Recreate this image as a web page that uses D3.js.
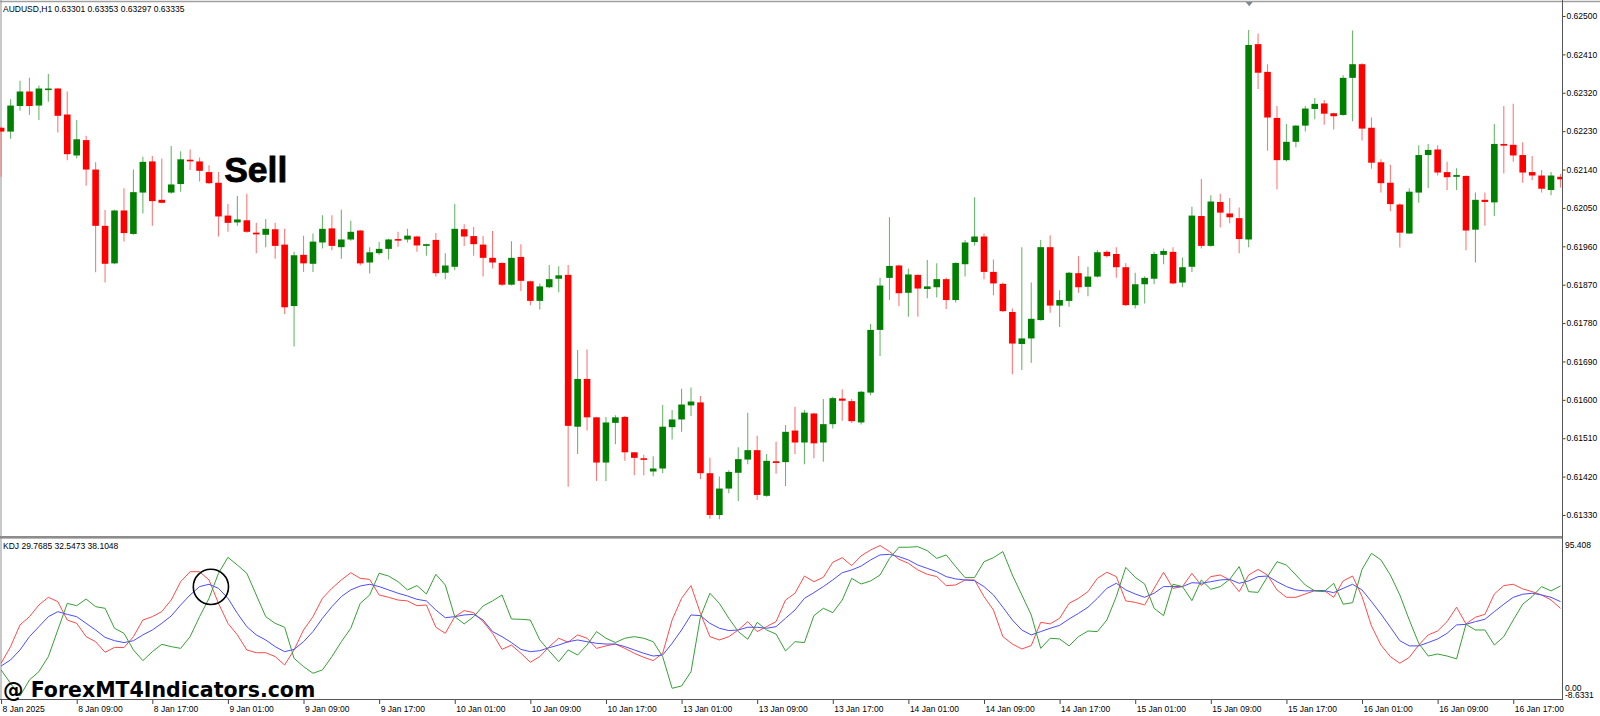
<!DOCTYPE html>
<html><head><meta charset="utf-8">
<script src="https://cdn.jsdelivr.net/npm/d3@7"></script>
<style>html,body{margin:0;padding:0;background:#fff;overflow:hidden}</style>
</head><body>
<svg id="c" width="1600" height="716"></svg>
<script>
// ---------------- DATA ----------------
const symbolTitle = "AUDUSD,H1  0.63301 0.63353 0.63297 0.63335";
const kdjTitle = "KDJ 29.7685 32.5473 38.1048";
const watermark = "@ ForexMT4Indicators.com";
const signalText = "Sell";

const open = [0.62238,0.62229,0.62289,0.62323,0.62290,0.62328,0.62330,0.62269,0.62173,0.62209,
0.62140,0.62008,0.61920,0.62044,0.61989,0.62086,0.62159,0.62069,0.62086,0.62106,
0.62163,0.62159,0.62134,0.62109,0.62032,0.62016,0.62021,0.61992,0.61987,0.62000,
0.61964,0.61820,0.61940,0.61919,0.61969,0.62002,0.61958,0.61976,0.61997,0.61922,
0.61944,0.61954,0.61977,0.61976,0.61983,0.61961,0.61975,0.61898,0.61912,0.62000,
0.61984,0.61964,0.61933,0.61921,0.61870,0.61935,0.61878,0.61832,0.61864,0.61884,
0.61893,0.61537,0.61649,0.61559,0.61453,0.61546,0.61560,0.61477,0.61463,0.61432,
0.61439,0.61536,0.61554,0.61587,0.61594,0.61428,0.61330,0.61392,0.61429,0.61460,
0.61482,0.61375,0.61456,0.61454,0.61528,0.61500,0.61568,0.61500,0.61543,0.61603,
0.61597,0.61547,0.61617,0.61764,0.61886,0.61915,0.61851,0.61893,0.61860,0.61864,
0.61883,0.61834,0.61918,0.61970,0.61983,0.61900,0.61872,0.61806,0.61731,0.61744,
0.61787,0.61958,0.61821,0.61832,0.61897,0.61865,0.61889,0.61947,0.61942,0.61911,
0.61822,0.61871,0.61884,0.61940,0.61947,0.61875,0.61912,0.62031,0.61961,0.62064,
0.62037,0.62026,0.61976,0.62434,0.62369,0.62261,0.62162,0.62205,0.62243,0.62282,
0.62295,0.62272,0.62268,0.62355,0.62387,0.62238,0.62157,0.62109,0.62058,0.61990,
0.62086,0.62174,0.62187,0.62134,0.62123,0.62125,0.61999,0.62069,0.62063,0.62200,
0.62198,0.62174,0.62134,0.62126,0.62092,0.62123];

const high = [0.62241,0.62305,0.62348,0.62355,0.62337,0.62364,0.62331,0.62323,0.62256,0.62219,
0.62157,0.62045,0.62046,0.62096,0.62140,0.62170,0.62172,0.62166,0.62195,0.62183,
0.62187,0.62168,0.62150,0.62134,0.62059,0.62078,0.62083,0.62015,0.62024,0.62015,
0.62001,0.61947,0.61985,0.61990,0.62033,0.62033,0.62046,0.62020,0.61998,0.61958,
0.61970,0.61978,0.61994,0.62001,0.61985,0.61966,0.61991,0.61944,0.62059,0.62012,
0.62005,0.61984,0.61996,0.61922,0.61972,0.61965,0.61879,0.61873,0.61916,0.61913,
0.61916,0.61717,0.61718,0.61560,0.61560,0.61564,0.61562,0.61478,0.61471,0.61468,
0.61588,0.61576,0.61626,0.61629,0.61609,0.61464,0.61420,0.61435,0.61489,0.61570,
0.61516,0.61473,0.61502,0.61541,0.61584,0.61576,0.61570,0.61602,0.61607,0.61625,
0.61602,0.61621,0.61778,0.61886,0.62028,0.61917,0.61908,0.61894,0.61928,0.61920,
0.61887,0.61922,0.61975,0.62075,0.61990,0.61929,0.61875,0.61814,0.61958,0.61875,
0.61975,0.61986,0.61857,0.61900,0.61937,0.61912,0.61951,0.61950,0.61958,0.61920,
0.61898,0.61890,0.61947,0.61955,0.61958,0.61934,0.62053,0.62118,0.62080,0.62083,
0.62073,0.62051,0.62467,0.62459,0.62387,0.62289,0.62247,0.62244,0.62289,0.62308,
0.62303,0.62273,0.62361,0.62466,0.62389,0.62262,0.62164,0.62151,0.62061,0.62096,
0.62197,0.62200,0.62197,0.62158,0.62143,0.62126,0.62086,0.62086,0.62247,0.62289,
0.62294,0.62204,0.62172,0.62139,0.62134,0.62130];

const low = [0.62123,0.62212,0.62278,0.62268,0.62256,0.62299,0.62227,0.62162,0.62166,0.62102,
0.61899,0.61875,0.61918,0.61971,0.61987,0.62037,0.62008,0.62061,0.62083,0.62088,
0.62139,0.62112,0.62106,0.61983,0.61994,0.62008,0.61992,0.61944,0.61958,0.61931,
0.61801,0.61725,0.61900,0.61900,0.61955,0.61951,0.61931,0.61973,0.61915,0.61896,
0.61940,0.61929,0.61959,0.61969,0.61947,0.61938,0.61889,0.61883,0.61904,0.61961,
0.61938,0.61889,0.61908,0.61867,0.61868,0.61855,0.61822,0.61812,0.61862,0.61852,
0.61396,0.61473,0.61528,0.61410,0.61410,0.61496,0.61457,0.61423,0.61423,0.61421,
0.61428,0.61507,0.61525,0.61562,0.61414,0.61321,0.61320,0.61381,0.61363,0.61449,
0.61365,0.61373,0.61427,0.61398,0.61473,0.61449,0.61463,0.61455,0.61533,0.61551,
0.61546,0.61542,0.61611,0.61703,0.61834,0.61820,0.61795,0.61795,0.61838,0.61840,
0.61813,0.61828,0.61889,0.61962,0.61883,0.61845,0.61806,0.61660,0.61670,0.61687,
0.61786,0.61804,0.61771,0.61818,0.61851,0.61843,0.61887,0.61934,0.61886,0.61820,
0.61814,0.61826,0.61871,0.61918,0.61871,0.61864,0.61900,0.61955,0.61959,0.62004,
0.62014,0.61944,0.61958,0.62329,0.62184,0.62094,0.62159,0.62192,0.62229,0.62258,
0.62245,0.62234,0.62266,0.62253,0.62208,0.62142,0.62086,0.62042,0.61957,0.61989,
0.62062,0.62097,0.62126,0.62092,0.62092,0.61951,0.61922,0.62008,0.62031,0.62131,
0.62158,0.62109,0.62115,0.62086,0.62080,0.62098];

const close = [0.62229,0.62290,0.62323,0.62289,0.62330,0.62330,0.62266,0.62176,0.62211,0.62140,
0.62008,0.61919,0.62044,0.61991,0.62087,0.62158,0.62066,0.62062,0.62105,0.62164,
0.62161,0.62137,0.62108,0.62030,0.62015,0.62023,0.61994,0.61988,0.62001,0.61961,
0.61817,0.61939,0.61920,0.61971,0.62001,0.61961,0.61976,0.61994,0.61920,0.61946,
0.61954,0.61976,0.61975,0.61985,0.61962,0.61965,0.61897,0.61915,0.62001,0.61983,
0.61965,0.61933,0.61922,0.61870,0.61933,0.61879,0.61832,0.61866,0.61883,0.61892,
0.61539,0.61649,0.61559,0.61453,0.61547,0.61559,0.61477,0.61464,0.61460,0.61439,
0.61537,0.61554,0.61589,0.61596,0.61428,0.61330,0.61392,0.61431,0.61461,0.61482,
0.61377,0.61457,0.61452,0.61525,0.61500,0.61570,0.61498,0.61543,0.61604,0.61598,
0.61550,0.61619,0.61764,0.61868,0.61914,0.61850,0.61894,0.61861,0.61866,0.61883,
0.61834,0.61921,0.61969,0.61983,0.61900,0.61873,0.61808,0.61732,0.61744,0.61790,
0.61958,0.61821,0.61834,0.61898,0.61864,0.61889,0.61946,0.61937,0.61911,0.61822,
0.61871,0.61886,0.61942,0.61949,0.61873,0.61911,0.62032,0.61961,0.62065,0.62039,
0.62028,0.61977,0.62432,0.62367,0.62262,0.62162,0.62205,0.62243,0.62283,0.62294,
0.62271,0.62265,0.62355,0.62387,0.62236,0.62156,0.62108,0.62059,0.61992,0.62088,
0.62174,0.62186,0.62133,0.62122,0.62127,0.61997,0.62069,0.62064,0.62200,0.62196,
0.62173,0.62133,0.62126,0.62095,0.62126,0.62117];

const kLine = [14.0,25.5,40.5,46.2,54.3,59.6,56.6,43.9,41.6,32.4,
28.9,21.6,25.0,24.8,32.4,43.9,46.2,49.7,57.7,70.4,
77.3,77.3,71.6,55.4,41.6,33.6,23.2,21.3,21.3,18.6,
12.8,23.2,37.0,46.2,58.9,65.8,71.6,76.6,72.7,72.0,
61.2,59.6,57.7,57.1,53.8,54.3,38.9,34.7,46.2,50.4,
49.0,42.8,34.7,23.6,26.6,20.9,14.7,18.6,25.5,31.3,
28.5,33.6,31.3,24.3,26.0,27.3,24.3,20.9,18.1,15.8,
20.9,43.9,58.9,67.7,48.5,32.4,30.1,32.4,37.0,42.8,
35.9,39.3,42.8,57.7,62.4,74.3,70.4,73.4,83.8,87.0,
81.5,88.2,92.3,95.4,91.2,85.9,83.1,78.5,75.5,73.9,
67.7,68.1,71.6,71.6,60.1,50.8,32.4,27.3,23.9,26.2,
42.3,41.2,45.1,55.4,58.9,63.5,72.7,76.9,73.9,57.1,
56.1,54.3,65.8,76.9,65.8,67.0,76.2,67.7,73.9,75.0,
71.6,63.5,75.0,78.9,75.0,64.7,59.6,59.6,61.9,64.2,
64.2,59.6,70.9,74.3,60.1,39.8,26.6,18.6,14.0,18.1,
26.6,33.6,36.3,42.8,52.7,41.2,45.8,47.8,61.9,67.7,
68.6,65.4,63.5,61.2,57.7,52.0];

const dLine = [12.1,16.3,23.2,32.4,39.3,46.2,49.7,47.8,46.2,41.6,
37.0,31.9,29.6,28.3,29.6,33.6,37.0,41.6,46.7,54.3,
61.2,67.0,68.6,65.8,58.9,48.5,39.3,33.6,30.1,25.5,
22.0,23.6,28.9,35.9,45.1,53.1,60.1,64.7,67.4,68.6,
67.0,64.7,62.4,60.5,58.2,57.1,50.8,45.5,46.2,47.4,
47.8,43.9,35.9,32.4,28.3,23.6,22.0,22.7,24.8,26.6,
28.9,30.1,28.9,27.8,27.3,27.3,25.5,23.2,20.9,19.0,
19.7,27.8,37.0,47.4,46.9,41.6,38.2,36.6,37.0,38.9,
38.9,38.2,39.3,45.1,50.8,58.9,62.8,67.0,71.6,76.6,
78.5,81.2,85.4,88.9,89.3,87.7,85.4,81.9,79.6,77.3,
73.9,72.3,71.6,71.1,67.0,61.2,52.7,43.9,37.0,33.6,
35.9,38.2,40.2,44.6,48.5,52.7,58.9,65.8,69.3,64.7,
61.9,59.6,62.4,67.0,67.0,67.0,69.7,69.3,70.4,71.6,
72.0,69.3,70.9,73.9,74.3,70.4,67.0,64.7,64.0,64.2,
64.2,62.8,65.8,68.6,64.7,56.6,48.1,38.9,29.6,26.0,
26.0,28.3,30.8,34.7,40.5,40.9,42.8,44.4,49.7,54.8,
59.6,61.7,62.4,61.2,59.6,56.6];

const jLine = [9.4,0.1,-8.6,2.5,8.2,18.6,37.0,55.4,53.8,58.4,
53.1,52.0,38.2,34.7,23.2,15.8,22.0,27.1,25.5,24.3,
32.4,46.2,58.9,76.2,87.2,81.9,76.2,61.2,46.2,41.6,
38.9,17.4,11.7,7.1,9.4,18.6,28.9,38.2,55.4,61.2,
76.2,74.3,70.4,64.7,67.7,61.9,75.5,68.1,46.2,41.2,
46.2,53.6,57.1,61.2,44.6,44.4,43.9,30.1,22.5,15.1,
23.2,19.7,26.6,35.9,31.3,28.3,31.3,32.4,31.3,28.9,
18.6,-3.3,-1.7,8.2,46.2,62.4,55.4,45.1,35.9,30.6,
42.3,37.0,34.2,22.5,28.9,28.3,46.9,52.0,49.0,57.7,
72.7,68.8,70.9,75.0,86.5,94.2,94.2,94.6,91.8,86.5,
88.9,80.8,73.2,73.2,84.2,87.0,91.2,75.0,61.2,47.4,
24.3,31.3,30.8,26.0,32.4,36.3,35.9,43.9,60.1,80.3,
73.4,68.8,52.0,46.9,68.6,67.0,57.3,71.6,65.1,67.0,
72.0,80.8,63.5,63.0,73.9,84.2,81.9,75.0,68.1,64.0,
63.5,69.3,54.8,55.9,78.9,90.0,85.4,75.0,61.2,43.9,
27.8,19.0,20.4,19.0,17.0,40.9,37.0,37.0,26.6,32.4,
43.9,54.8,60.1,67.0,64.0,67.4];

const priceTicks = [0.62500,0.62410,0.62320,0.62230,0.62140,0.62050,0.61960,0.61870,0.61780,0.61690,0.61600,0.61510,0.61420,0.61330];
const kdjAxisValues = [95.408, 0, -8.6331];
const kdjAxisLabels = ["95.408","0.00","-8.6331"];
const timeTickBars = [0,8,16,24,32,40,48,56,64,72,80,88,96,104,112,120,128,136,144,152,160];
const timeTickLabels = ["8 Jan 2025","8 Jan 09:00","8 Jan 17:00","9 Jan 01:00","9 Jan 09:00","9 Jan 17:00",
"10 Jan 01:00","10 Jan 09:00","10 Jan 17:00","13 Jan 01:00","13 Jan 09:00","13 Jan 17:00",
"14 Jan 01:00","14 Jan 09:00","14 Jan 17:00","15 Jan 01:00","15 Jan 09:00","15 Jan 17:00",
"16 Jan 01:00","16 Jan 09:00","16 Jan 17:00"];
// annotation anchors (bar index, value)
const sellAnchor = {bar: 23.6, price: 0.62111};
const crossAnchor = {bar: 22.2, value: 66.8};

// ---------------- CHART ----------------
const FONT = "'Liberation Sans', Arial, sans-serif";
const svg = d3.select("#c");
const axisX = 1562.5;

const x = d3.scaleLinear().domain([0, open.length - 1]).range([1.1, 1560.5]);
const y = d3.scaleLinear().domain([0.61330, 0.62500]).range([515, 16]);
const ky = d3.scaleLinear().domain([-8.6331, 95.408]).range([696, 545.5]);

const bars = open.map((o, i) => ({i, o, h: high[i], l: low[i], c: close[i]}));

const defs = svg.append("defs");
defs.append("clipPath").attr("id", "mainClip").append("rect")
  .attr("x", 0).attr("y", 2).attr("width", axisX).attr("height", 533);
defs.append("clipPath").attr("id", "kdjClip").append("rect")
  .attr("x", 0).attr("y", 539).attr("width", axisX).attr("height", 160);

// frame
svg.append("line").attr("x1", 0).attr("x2", 1600).attr("y1", 1.5).attr("y2", 1.5)
  .attr("stroke", "#a0a0a0").attr("stroke-width", 1.5);
svg.append("line").attr("x1", 1).attr("x2", 1).attr("y1", 0).attr("y2", 700)
  .attr("stroke", "#909090").attr("stroke-width", 1);
svg.append("rect").attr("x", 0).attr("y", 536).attr("width", axisX).attr("height", 2.6)
  .attr("fill", "#8c8c8c");

// candles
const main = svg.append("g").attr("clip-path", "url(#mainClip)");
const up = d => d.c >= d.o;
main.selectAll("line.wick").data(bars).join("line").attr("class", "wick")
  .attr("x1", d => x(d.i)).attr("x2", d => x(d.i))
  .attr("y1", d => y(d.h)).attr("y2", d => y(d.l))
  .attr("stroke", d => up(d) ? "#6cb86c" : "#ff7878").attr("stroke-width", 1.1);
main.selectAll("rect.body").data(bars).join("rect").attr("class", "body")
  .attr("x", d => x(d.i) - 3.3).attr("width", 6.6)
  .attr("y", d => Math.min(y(d.o), y(d.c)))
  .attr("height", d => Math.max(1.6, Math.abs(y(d.o) - y(d.c))))
  .attr("fill", d => up(d) ? "#008000" : "#ff0000");

// title
svg.append("text").attr("x", 3).attr("y", 12).text(symbolTitle)
  .attr("font-family", FONT).attr("font-size", 8.5).attr("fill", "#000");

// Sell label
svg.append("text").attr("x", x(sellAnchor.bar)).attr("y", y(sellAnchor.price)).text(signalText)
  .attr("font-family", FONT).attr("font-weight", "bold").attr("font-size", 35.5)
  .attr("fill", "#000").attr("stroke", "#000").attr("stroke-width", 0.8);

// price axis
const yAxis = d3.axisRight(y).tickValues(priceTicks).tickFormat(d3.format(".5f"))
  .tickSize(3).tickPadding(1).tickSizeOuter(0);
const gy = svg.append("g").attr("transform", `translate(${axisX},0)`).call(yAxis);
gy.select(".domain").remove();
gy.selectAll(".tick line").attr("stroke", "#444");
gy.selectAll("text").attr("font-family", FONT).attr("font-size", 8.5).attr("fill", "#000");
svg.append("line").attr("x1", axisX).attr("x2", axisX).attr("y1", 0).attr("y2", 700)
  .attr("stroke", "#555").attr("stroke-width", 1);

// KDJ lines
const kdj = svg.append("g").attr("clip-path", "url(#kdjClip)");
const line = d3.line().x((d, i) => x(i)).y(d => ky(d));
[[kLine, "#ff4a4a"], [dLine, "#4c4cff"], [jLine, "#35a035"]].forEach(([s, col]) => {
  kdj.append("path").datum(s).attr("d", line).attr("fill", "none")
    .attr("stroke", col).attr("stroke-width", 1);
});

svg.append("text").attr("x", 3).attr("y", 548.5).text(kdjTitle)
  .attr("font-family", FONT).attr("font-size", 8.5).attr("fill", "#000");

// KDJ right labels
const labelNudge = [-0.5, 4.5, -0.5];
svg.append("g").selectAll("text").data(kdjAxisValues).join("text")
  .attr("x", 1565).attr("y", (d, i) => ky(d) + labelNudge[i]).attr("dy", "0.32em")
  .text((d, i) => kdjAxisLabels[i])
  .attr("font-family", FONT).attr("font-size", 8.5).attr("fill", "#000");

// crossing circle
svg.append("circle").attr("cx", x(crossAnchor.bar)).attr("cy", ky(crossAnchor.value)).attr("r", 17.6)
  .attr("fill", "none").attr("stroke", "#000").attr("stroke-width", 1.6);

// time axis
const xAxis = d3.axisBottom(x).tickValues(timeTickBars).tickFormat((d, k) => timeTickLabels[k])
  .tickSize(4).tickSizeOuter(0);
const gx = svg.append("g").attr("transform", "translate(0,700)").call(xAxis);
gx.select(".domain").remove();
gx.selectAll(".tick line").attr("stroke", "#444");
gx.selectAll("text").attr("text-anchor", "start").attr("x", 1).attr("y", 6).attr("dy", "0.71em")
  .attr("font-family", FONT).attr("font-size", 8.5).attr("fill", "#000");
svg.append("line").attr("x1", 0).attr("x2", axisX).attr("y1", 699.5).attr("y2", 699.5)
  .attr("stroke", "#555").attr("stroke-width", 1);

// shift marker
svg.append("path").attr("d", d3.line()([[1245.7, 2], [1252.7, 2], [1249.2, 6.2]]) + "Z")
  .attr("fill", "#7a8797");

// watermark
svg.append("text").attr("x", 3).attr("y", 696.5).text(watermark)
  .attr("font-family", "'DejaVu Sans', sans-serif").attr("font-weight", "bold")
  .attr("font-size", 20.5).attr("fill", "#000");
</script>
</body></html>
